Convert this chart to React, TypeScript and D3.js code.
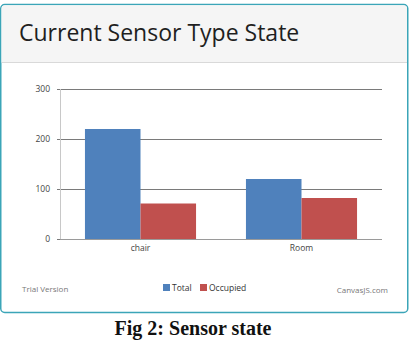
import { useEffect, useRef } from 'react';
import * as d3 from 'd3';

const categories = ['chair', 'Room'];
const seriesNames = ['Total', 'Occupied'];
const totalValues = [220, 120];
const occupiedValues = [71, 82];
const yTicks = [0, 100, 200, 300];
const colors = ['#4f81bc', '#c0504e'];

const W = 413;
const H = 342;

const App = () => {
  const svgRef = useRef<SVGSVGElement>(null);

  useEffect(() => {
    const svg = d3.select(svgRef.current);
    svg.selectAll('*').remove();

    // card
    svg.append('rect')
      .attr('x', 0.75).attr('y', 4.5).attr('width', 407).attr('height', 308)
      .attr('rx', 4).attr('fill', '#fff').attr('stroke', '#3ba5b8').attr('stroke-width', 1.5);
    svg.append('path')
      .attr('d', 'M1.5,62 L1.5,9 Q1.5,5.3 5,5.3 L403,5.3 Q407,5.3 407,9 L407,62 Z')
      .attr('fill', '#f5f5f5');
    svg.append('line')
      .attr('x1', 1.5).attr('x2', 407).attr('y1', 62.5).attr('y2', 62.5)
      .attr('stroke', '#d9d9d9');
    svg.append('text')
      .attr('x', 19).attr('y', 41)
      .attr('font-family', '"Open Sans", "Noto Sans", sans-serif')
      .attr('font-size', 23).attr('font-weight', 500).attr('fill', '#1f1f1f')
      .text('Current Sensor Type State');

    const margin = { left: 60, right: 31, top: 89, bottom: 103 };
    const x0 = d3.scaleBand().domain(categories).range([margin.left, W - margin.right]).paddingInner(0.31).paddingOuter(0.155);
    const x1 = d3.scaleBand().domain(seriesNames).range([0, x0.bandwidth()]);
    const y = d3.scaleLinear().domain([0, 300]).range([H - margin.bottom, margin.top]);

    const g = svg.append('g');

    // gridlines
    g.append('g')
      .attr('transform', `translate(${margin.left},0)`)
      .call(d3.axisLeft(y).tickValues(yTicks).tickSize(-(W - margin.left - margin.right)).tickFormat(() => ''))
      .call((a) => a.select('.domain').remove())
      .call((a) => a.selectAll('.tick line').attr('stroke', '#7a7a7a').attr('stroke-width', 1));

    // y axis
    g.append('g')
      .attr('transform', `translate(${margin.left},0)`)
      .call(d3.axisLeft(y).tickValues(yTicks).tickSize(3).tickPadding(7))
      .call((a) => a.select('.domain').attr('stroke', '#c8c8c8').attr('d', `M0.5,${margin.top}V${H - margin.bottom}`))
      .call((a) => a.selectAll('.tick line').attr('stroke', '#7a7a7a'))
      .call((a) => a.selectAll('.tick text').attr('fill', '#444').attr('font-size', 8.5)
        .attr('font-family', '"Open Sans", sans-serif'));

    const data = categories.map((c, i) => ({ cat: c, vals: [totalValues[i], occupiedValues[i]] }));

    g.selectAll('g.grp')
      .data(data)
      .join('g')
      .attr('class', 'grp')
      .attr('transform', (d) => `translate(${x0(d.cat)},0)`)
      .selectAll('rect')
      .data((d) => d.vals.map((v, j) => ({ v, j })))
      .join('rect')
      .attr('x', (d) => x1(seriesNames[d.j]) as number)
      .attr('width', x1.bandwidth())
      .attr('y', (d) => y(d.v))
      .attr('height', (d) => y(0) - y(d.v))
      .attr('fill', (d) => colors[d.j]);

    // x axis
    g.append('g')
      .attr('transform', `translate(0,${H - margin.bottom})`)
      .call(d3.axisBottom(x0).tickSize(0).tickPadding(6))
      .call((a) => a.select('.domain').attr('stroke', '#9a9a9a').attr('d', `M${margin.left},0.5H${W - margin.right}`))
      .call((a) => a.selectAll('.tick text').attr('fill', '#444').attr('font-size', 8.5)
        .attr('font-family', '"Open Sans", sans-serif'));

    // legend
    const legend = svg.append('g').attr('font-family', '"Open Sans", sans-serif').attr('font-size', 8.5).attr('fill', '#333');
    const legendX = [163, 200];
    seriesNames.forEach((s, i) => {
      legend.append('rect').attr('x', legendX[i]).attr('y', 284).attr('width', 7).attr('height', 7).attr('fill', colors[i]);
      legend.append('text').attr('x', legendX[i] + 9).attr('y', 291).text(s);
    });

    svg.append('text').attr('x', 22).attr('y', 292)
      .attr('font-family', '"Open Sans", sans-serif').attr('font-size', 8).attr('fill', '#777')
      .text('Trial Version');
    svg.append('text').attr('x', 388).attr('y', 293).attr('text-anchor', 'end')
      .attr('font-family', '"Open Sans", sans-serif').attr('font-size', 8).attr('fill', '#777')
      .text('CanvasJS.com');

    svg.append('text').attr('x', 193).attr('y', 335).attr('text-anchor', 'middle')
      .attr('font-family', '"Liberation Serif", "Times New Roman", serif').attr('font-weight', 'bold')
      .attr('font-size', 20).attr('fill', '#111')
      .text('Fig 2: Sensor state');
  }, []);

  return (
    <div style={{ position: 'absolute', left: 0, top: 0 }}>
      <svg ref={svgRef} width={W} height={H} style={{ display: 'block' }} />
    </div>
  );
};

export default App;
